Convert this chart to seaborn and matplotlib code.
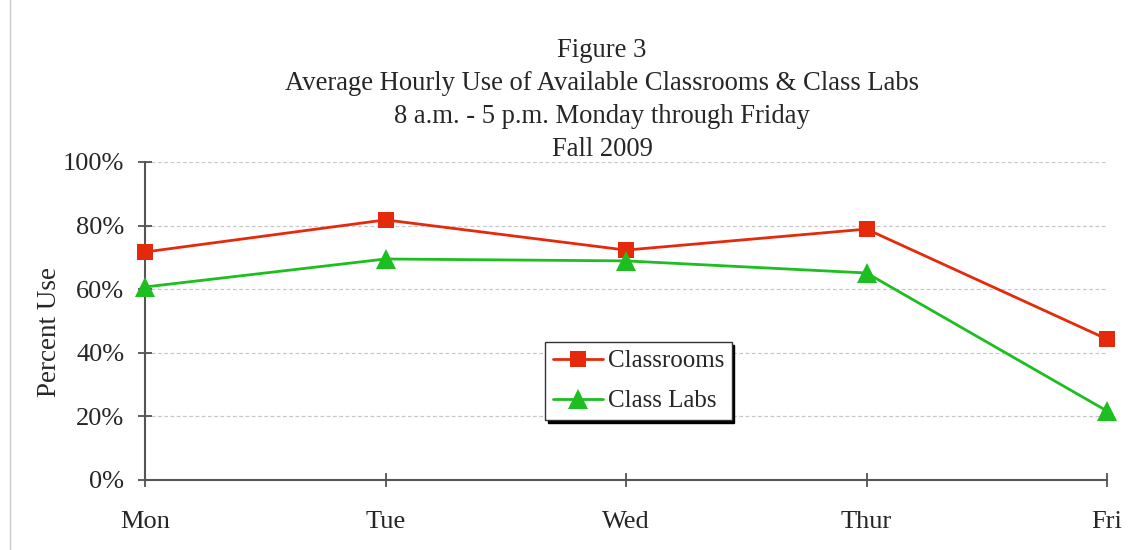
import matplotlib
matplotlib.use("Agg")
import matplotlib.pyplot as plt
import seaborn as sns
import pandas as pd
from matplotlib.ticker import FuncFormatter
from matplotlib.lines import Line2D

days = ["Mon", "Tue", "Wed", "Thur", "Fri"]
classrooms = [71.7, 81.8, 72.3, 78.9, 44.3]
class_labs = [60.7, 69.5, 68.9, 65.1, 21.7]
yticks = [0, 20, 40, 60, 80, 100]
title_lines = ["Figure 3",
               "Average Hourly Use of Available Classrooms & Class Labs",
               "8 a.m. - 5 p.m. Monday through Friday",
               "Fall 2009"]

sns.set_theme(style="white")
plt.rcParams['font.family'] = ['Liberation Serif', 'DejaVu Serif']

fig = plt.figure(figsize=(11.28, 5.5), dpi=100)
ax = fig.add_axes([145/1128, 1-480/550, (1107-145)/1128, (480-162)/550])

df = pd.DataFrame({
    "x": list(range(len(days))) * 2,
    "value": classrooms + class_labs,
    "series": ["Classrooms"] * len(days) + ["Class Labs"] * len(days),
})

red = "#E52A0C"
green = "#1DBE1F"
sns.lineplot(data=df[df.series == "Classrooms"], x="x", y="value", ax=ax,
             color=red, marker="s", markersize=11.5, markeredgewidth=0,
             linewidth=2, label="Classrooms", clip_on=False, zorder=5)
sns.lineplot(data=df[df.series == "Class Labs"], x="x", y="value", ax=ax,
             color=green, marker="^", markersize=15, markeredgewidth=0,
             linewidth=2, label="Class Labs", clip_on=False, zorder=5)

ax.set_xlim(0, len(days) - 1)
ax.set_ylim(0, 100)
ax.set_xticks(range(len(days)))
ax.set_xticklabels(days, fontsize=19)
ax.set_yticks(yticks)
ax.yaxis.set_major_formatter(FuncFormatter(lambda v, p: f"{int(v)}%"))
ax.tick_params(axis='y', labelsize=19, direction='inout', length=10, width=1.2, color="#444444", pad=10, left=True)
ax.tick_params(axis='x', labelsize=19, direction='inout', length=10, width=1.2, color="#444444", pad=17, bottom=True)
ax.set_xlabel("")
ax.set_ylabel("Percent Use", fontsize=19.5)
ax.yaxis.set_label_coords(-0.086, 0.465)

for s in ["top", "right"]:
    ax.spines[s].set_visible(False)
for s in ["left", "bottom"]:
    ax.spines[s].set_color("#555555")
    ax.spines[s].set_linewidth(1.5)

ax.grid(axis='y', color="#C8C8C8", linestyle=(0, (3, 2)), linewidth=0.9)
ax.set_axisbelow(True)

leg = ax.legend(loc="lower left", bbox_to_anchor=(0.416, 0.189), borderaxespad=0,
                fontsize=18, frameon=True, fancybox=False,
                shadow={'color': 'black', 'alpha': 1.0},
                edgecolor="#333333", framealpha=1, handlelength=2.0,
                borderpad=0.3, labelspacing=0.7, handletextpad=0.2)
leg.get_frame().set_linewidth(1.0)
leg.set_zorder(10)

fig.text(602/1128, 1-100/550, "\n".join(title_lines), ha="center", va="center",
         fontsize=19.2, linespacing=1.41)

fig.add_artist(Line2D([10/1128, 10/1128], [0, 1], color="#CCCCCC", linewidth=1))

fig.savefig("out.png", dpi=100)
